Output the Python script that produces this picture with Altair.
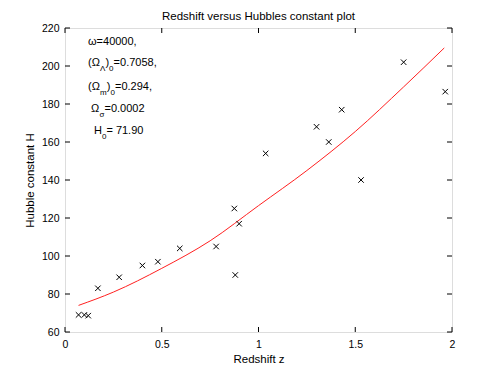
import altair as alt
import pandas as pd

# ---- data ----
z_obs = [0.07, 0.10, 0.12, 0.17, 0.28, 0.40, 0.48, 0.593, 0.781, 0.875,
         0.88, 0.90, 1.037, 1.30, 1.363, 1.43, 1.53, 1.75, 1.965]
H_obs = [69, 69, 68.6, 83, 88.8, 95, 97, 104, 105, 125,
         90, 117, 154, 168, 160, 177, 140, 202, 186.5]

z_fit = [0.07, 0.25, 0.50, 0.75, 1.00, 1.25, 1.50, 1.75, 1.96]
H_fit = [74.0, 81.0, 93.5, 108.0, 126.5, 145.0, 165.5, 189.0, 209.5]

x_ticks = [0, 0.5, 1, 1.5, 2]
y_ticks = [60, 80, 100, 120, 140, 160, 180, 200, 220]

title_text = "Redshift versus Hubbles constant plot"
x_title = "Redshift z"
y_title = "Hubble constant H"

# annotation fragments: (text, kind)
ann_rows = [
    [("ω=40000,", "main")],
    [("(Ω", "main"), ("Λ", "sub"), (")", "main"), ("0", "sub"), ("=0.7058,", "main")],
    [("(Ω", "main"), ("m", "sub"), (")", "main"), ("0", "sub"), ("=0.294,", "main")],
    [("Ω", "main"), ("σ", "sub"), ("=0.0002", "main")],
    [("H", "main"), ("0", "sub"), ("= 71.90", "main")],
]

# ---- layout ----
W, H = 387, 304
FONT = "Liberation Sans"
px_per_z = W / 2.0
px_per_H = H / 160.0

row_x0 = [88, 88, 88, 91, 94]          # left start (page px)
row_base = [45, 66, 90, 112, 134]      # baseline (page px)
frag_dx = [
    [0],
    [0, 12.1, 17.4, 21.1, 25.6],
    [0, 12.1, 18.8, 22.5, 27.0],
    [0, 8.4, 13.5],
    [0, 7.9, 12.4],
]
SUB_DROP = 4.5
PLOT_LEFT, PLOT_BOTTOM = 65, 332

recs = []
for r, frags in enumerate(ann_rows):
    for (txt, kind), dx in zip(frags, frag_dx[r]):
        px = row_x0[r] + dx
        py = row_base[r] + (SUB_DROP if kind == "sub" else 0)
        recs.append({
            "text": txt, "kind": kind,
            "z": (px - PLOT_LEFT) / px_per_z,
            "H": 60 + (PLOT_BOTTOM - py) / px_per_H,
        })
ann_df = pd.DataFrame(recs)

obs_df = pd.DataFrame({"z": z_obs, "H": H_obs})
fit_df = pd.DataFrame({"z": z_fit, "H": H_fit})
xt_df = pd.DataFrame({"z": x_ticks})
yt_df = pd.DataFrame({"H": y_ticks})

xs = alt.Scale(domain=[0, 2], nice=False, zero=False)
ys = alt.Scale(domain=[60, 220], nice=False, zero=False)

x_axis = alt.Axis(values=x_ticks, format="~g", title=x_title, grid=False,
                  tickSize=0, domain=False, labelPadding=7, titlePadding=4,
                  labelFontSize=10.5, titleFontSize=11.5, labelColor="black",
                  titleColor="black", labelFont=FONT, titleFont=FONT,
                  titleFontWeight="normal", labelFlush=False, labelOverlap=False)
y_axis = alt.Axis(values=y_ticks, format="d", title=y_title, grid=False,
                  tickSize=0, domain=False, labelPadding=6, titlePadding=6,
                  labelFontSize=10.5, titleFontSize=11.5, labelColor="black",
                  titleColor="black", labelFont=FONT, titleFont=FONT,
                  titleFontWeight="normal", labelFlush=False, labelOverlap=False)

X = alt.X("z:Q", scale=xs, axis=x_axis)
Y = alt.Y("H:Q", scale=ys, axis=y_axis)

fit_line = alt.Chart(fit_df).mark_line(
    color="#ff2020", strokeWidth=1, interpolate="monotone"
).encode(x=X, y=Y)

cross_path = "M-1,-1L1,1M-1,1L1,-1"
points = alt.Chart(obs_df).mark_point(
    shape=cross_path, filled=False, color="black", strokeWidth=1, size=30, opacity=1
).encode(x=X, y=Y)

tick_len = 5
xt_bottom = alt.Chart(xt_df).mark_rule(color="black", strokeWidth=1).encode(
    x=X, y=alt.value(H), y2=alt.value(H - tick_len))
xt_top = alt.Chart(xt_df).mark_rule(color="black", strokeWidth=1).encode(
    x=X, y=alt.value(0), y2=alt.value(tick_len))
yt_left = alt.Chart(yt_df).mark_rule(color="black", strokeWidth=1).encode(
    y=Y, x=alt.value(0), x2=alt.value(tick_len))
yt_right = alt.Chart(yt_df).mark_rule(color="black", strokeWidth=1).encode(
    y=Y, x=alt.value(W - tick_len), x2=alt.value(W))

ann_main = alt.Chart(ann_df).transform_filter(alt.datum.kind == "main").mark_text(
    align="left", baseline="alphabetic", font=FONT, fontSize=11, color="black"
).encode(x=X, y=Y, text="text:N")
ann_sub = alt.Chart(ann_df).transform_filter(alt.datum.kind == "sub").mark_text(
    align="left", baseline="alphabetic", font=FONT, fontSize=8, color="black"
).encode(x=X, y=Y, text="text:N")

chart = alt.layer(
    fit_line, points, xt_bottom, xt_top, yt_left, yt_right, ann_main, ann_sub
).properties(
    width=W, height=H,
    title=alt.TitleParams(title_text, font=FONT, fontSize=11.5, fontWeight="normal",
                          color="black", anchor="middle", offset=1),
    autosize=alt.AutoSizeParams(type="none"),
    padding={"left": 57, "top": 20, "right": 36, "bottom": 33},
).configure_view(
    stroke="black", strokeWidth=1
).configure_axis(
    labelOverlap=False
).configure(background="white")

chart.save("out.html", embed_options={"renderer": "svg", "actions": False})
